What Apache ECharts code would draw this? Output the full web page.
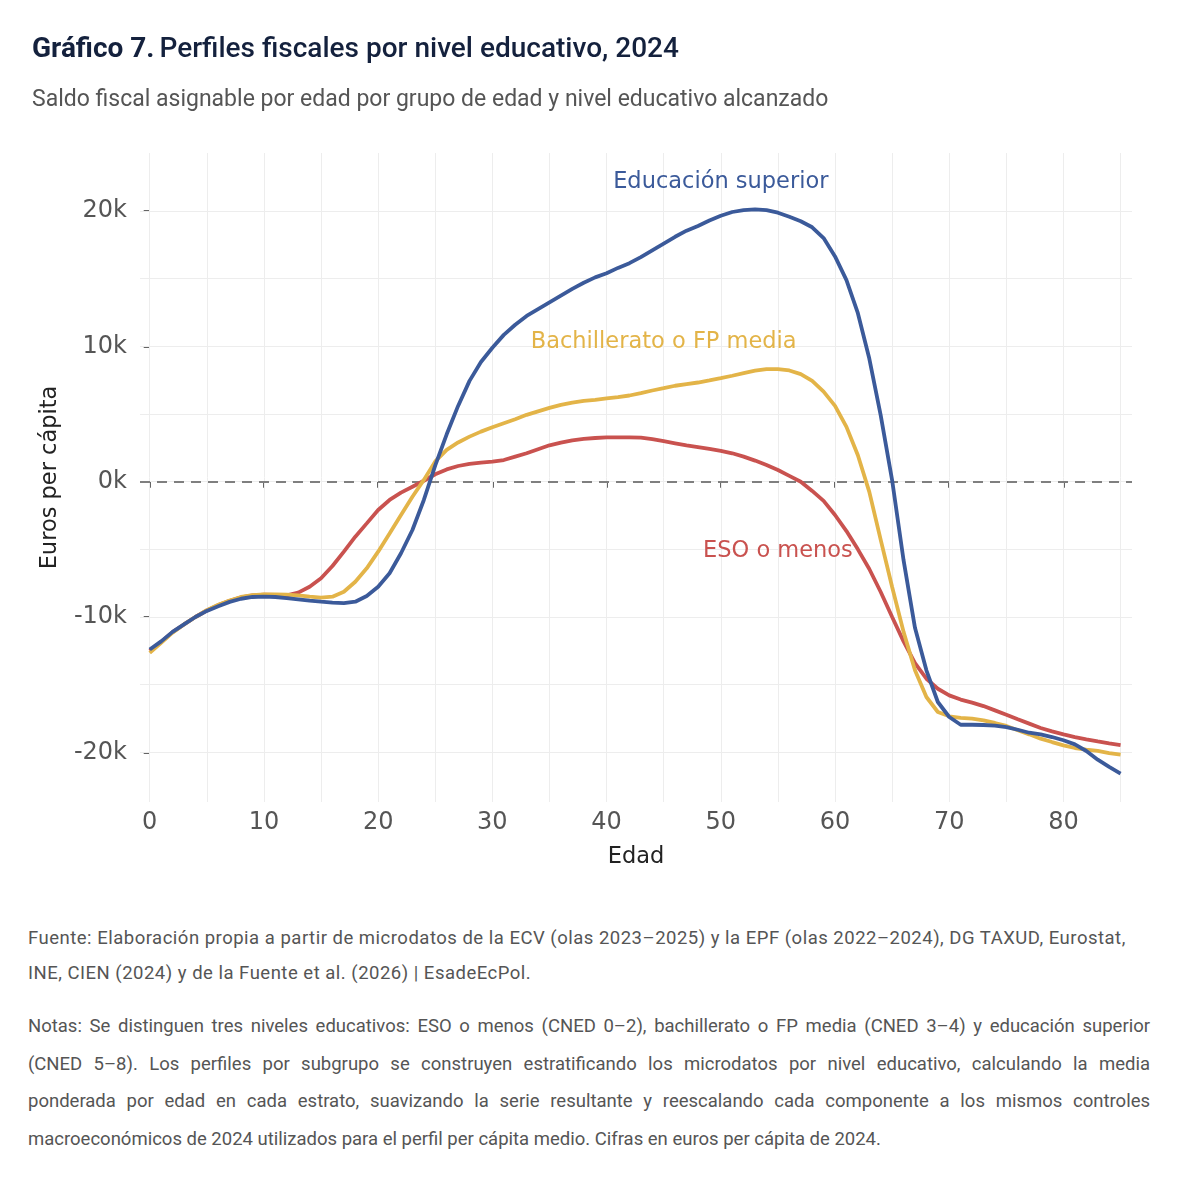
<!DOCTYPE html>
<html>
<head>
<meta charset="utf-8">
<script src="https://cdn.jsdelivr.net/npm/echarts@6/dist/echarts.min.js"></script>
<style>
body{margin:0;background:#fff;}
#chart{width:1178px;height:900px;}
#notas{position:absolute;left:28px;top:921px;width:1122px;font-family:Roboto,"Liberation Sans",sans-serif;font-size:18.5px;color:#555;}
#notas .f{line-height:35px;letter-spacing:0.5px;}
#notas .n{line-height:37.7px;margin-top:17px;}
#notas .j{text-align:justify;text-align-last:justify;}
</style>
</head>
<body>
<div id="chart"></div>
<div id="notas">
  <div class="f">
    <div>Fuente: Elaboración propia a partir de microdatos de la ECV (olas 2023–2025) y la EPF (olas 2022–2024), DG TAXUD, Eurostat,</div>
    <div>INE, CIEN (2024) y de la Fuente et al. (2026) | EsadeEcPol.</div>
  </div>
  <div class="n">
    <div class="j">Notas: Se distinguen tres niveles educativos: ESO o menos (CNED 0–2), bachillerato o FP media (CNED 3–4) y educación superior</div>
    <div class="j">(CNED 5–8). Los perfiles por subgrupo se construyen estratificando los microdatos por nivel educativo, calculando la media</div>
    <div class="j">ponderada por edad en cada estrato, suavizando la serie resultante y reescalando cada componente a los mismos controles</div>
    <div>macroeconómicos de 2024 utilizados para el perfil per cápita medio. Cifras en euros per cápita de 2024.</div>
  </div>
</div>
<script>
// edades (eje x)
var ages = [0,1,2,3,4,5,6,7,8,9,10,11,12,13,14,15,16,17,18,19,20,21,22,23,24,25,26,27,28,29,
    30,31,32,33,34,35,36,37,38,39,40,41,42,43,44,45,46,47,48,49,50,51,52,53,54,55,56,57,58,59,
    60,61,62,63,64,65,66,67,68,69,70,71,72,73,74,75,76,77,78,79,80,81,82,83,84,85];

// ESO o menos
var esoMenos = [-12500,-11850,-11120,-10550,-10000,-9520,-9120,-8800,-8550,-8400,
    -8350,-8360,-8400,-8200,-7760,-7140,-6230,-5170,-4060,-3080,
    -2090,-1350,-810,-370,70,550,910,1160,1310,1410,
    1480,1600,1850,2100,2400,2690,2890,3060,3160,3230,
    3280,3280,3280,3260,3140,2990,2840,2690,2560,2420,
    2280,2100,1850,1560,1230,860,430,0,-680,-1420,
    -2460,-3650,-5000,-6450,-8150,-10000,-11800,-13400,-14560,-15300,
    -15790,-16100,-16330,-16580,-16900,-17220,-17560,-17880,-18200,-18450,
    -18670,-18870,-19040,-19190,-19330,-19460];

// Bachillerato o FP media
var bachFp = [-12650,-11900,-11150,-10550,-10000,-9500,-9100,-8780,-8520,-8380,
    -8330,-8330,-8350,-8400,-8500,-8570,-8500,-8130,-7390,-6400,
    -5170,-3820,-2460,-1110,130,1500,2350,2900,3330,3700,
    4020,4320,4620,4940,5200,5450,5680,5850,5980,6050,
    6150,6250,6370,6540,6740,6910,7090,7210,7330,7480,
    7650,7830,8020,8200,8320,8320,8220,7950,7450,6660,
    5600,4050,1950,-750,-4300,-7780,-11100,-13940,-15910,-17020,
    -17340,-17460,-17510,-17640,-17830,-18050,-18370,-18670,-18990,-19240,
    -19480,-19680,-19800,-19900,-20050,-20170];

// Educación superior
var eduSuperior = [-12400,-11800,-11100,-10550,-10000,-9550,-9200,-8880,-8650,-8520,
    -8500,-8520,-8600,-8690,-8790,-8870,-8940,-8970,-8870,-8450,
    -7760,-6770,-5290,-3570,-1350,1200,3500,5600,7450,8850,
    9900,10850,11600,12250,12750,13250,13750,14250,14700,15100,
    15400,15800,16150,16600,17100,17600,18100,18550,18900,19300,
    19650,19930,20070,20120,20070,19880,19580,19250,18800,18000,
    16650,14900,12450,9100,4900,100,-5800,-10800,-13940,-16280,
    -17390,-17960,-17960,-17980,-18030,-18130,-18330,-18550,-18670,-18870,
    -19110,-19410,-19900,-20540,-21080,-21580];

// marcas y rejilla
var xTicks = [0,10,20,30,40,50,60,70,80];
var xGrid = [0,5,10,15,20,25,30,35,40,45,50,55,60,65,70,75,80,85];
var yTicks = [-20000,-10000,0,10000,20000];
var yGrid = [-20000,-15000,-10000,-5000,0,5000,10000,15000,20000];

var fuente = 'Roboto, "Liberation Sans", sans-serif';
var fuenteEje = '"DejaVu Sans", sans-serif';
var colores = {eso:'#c9524f', bach:'#e3b448', sup:'#3b5a9a'};

function pares(vals){
    return ages.map(function(a, i){ return [a, vals[i]]; });
}

function etiqueta(texto, x, y, color){
    return {
        symbol:'circle', symbolSize:1, silent:true,
        itemStyle:{color:'rgba(0,0,0,0)'},
        label:{show:true, position:'inside', formatter:'{b}', fontFamily:fuenteEje, fontSize:22.5, color:color},
        data:[{name:texto, coord:[x, y]}]
    };
}

var chart = echarts.init(document.getElementById('chart'));
chart.setOption({
    animation:false,
    title:{
        left:27, top:31,
        text:'{b|Gráfico 7.} {m|Perfiles fiscales por nivel educativo, 2024}',
        textStyle:{
            rich:{
                b:{fontFamily:fuente, fontSize:28, fontWeight:'bold', color:'#14213d'},
                m:{fontFamily:fuente, fontSize:28, fontWeight:500, color:'#14213d'}
            }
        },
        subtext:'Saldo fiscal asignable por edad por grupo de edad y nivel educativo alcanzado',
        subtextStyle:{fontFamily:fuente, fontSize:23, color:'#555'},
        itemGap:25
    },
    grid:{left:140, right:46, top:153, bottom:98},
    xAxis:{
        type:'value', min:-0.85, max:86,
        name:'Edad', nameLocation:'middle', nameGap:44,
        nameTextStyle:{fontFamily:fuenteEje, fontSize:22.5, color:'#222'},
        axisLine:{show:false},
        splitLine:{show:false},
        axisTick:{show:true, length:6, customValues:xTicks, lineStyle:{color:'#333', width:1.5}},
        axisLabel:{customValues:xTicks, margin:9, fontFamily:fuenteEje, fontSize:24, color:'#555'}
    },
    yAxis:{
        type:'value', min:-23670, max:24290,
        name:'Euros per cápita', nameLocation:'middle', nameRotate:90, nameGap:78,
        nameTextStyle:{fontFamily:fuenteEje, fontSize:22.5, color:'#222'},
        axisLine:{show:false},
        splitLine:{show:false},
        axisTick:{show:true, length:6, customValues:yTicks, lineStyle:{color:'#333', width:1.5}},
        axisLabel:{customValues:yTicks, margin:13, fontFamily:fuenteEje, fontSize:24, color:'#555',
            formatter:function(v){ return (v/1000) + 'k'; }}
    },
    series:[
        {
            // rejilla y línea de cero
            name:'rejilla', type:'line', data:[], silent:true,
            markLine:{
                silent:true, symbol:'none', z:1,
                label:{show:false},
                lineStyle:{color:'#ededed', width:1, type:'solid'},
                data:xGrid.map(function(v){ return {xAxis:v}; })
                    .concat(yGrid.map(function(v){ return {yAxis:v}; }))
                    .concat([{yAxis:0, lineStyle:{color:'#7f7f7f', width:2, type:[10,7]}}])
            }
        },
        {
            name:'ESO o menos', type:'line', showSymbol:false, z:3,
            lineStyle:{width:3.8, color:colores.eso}, itemStyle:{color:colores.eso},
            data:pares(esoMenos),
            markPoint:etiqueta('ESO o menos', 55, -5100, colores.eso)
        },
        {
            name:'Bachillerato o FP media', type:'line', showSymbol:false, z:4,
            lineStyle:{width:3.8, color:colores.bach}, itemStyle:{color:colores.bach},
            data:pares(bachFp),
            markPoint:etiqueta('Bachillerato o FP media', 45, 10300, colores.bach)
        },
        {
            name:'Educación superior', type:'line', showSymbol:false, z:5,
            lineStyle:{width:3.8, color:colores.sup}, itemStyle:{color:colores.sup},
            data:pares(eduSuperior),
            markPoint:etiqueta('Educación superior', 50, 22100, colores.sup)
        }
    ]
});
</script>
</body>
</html>
